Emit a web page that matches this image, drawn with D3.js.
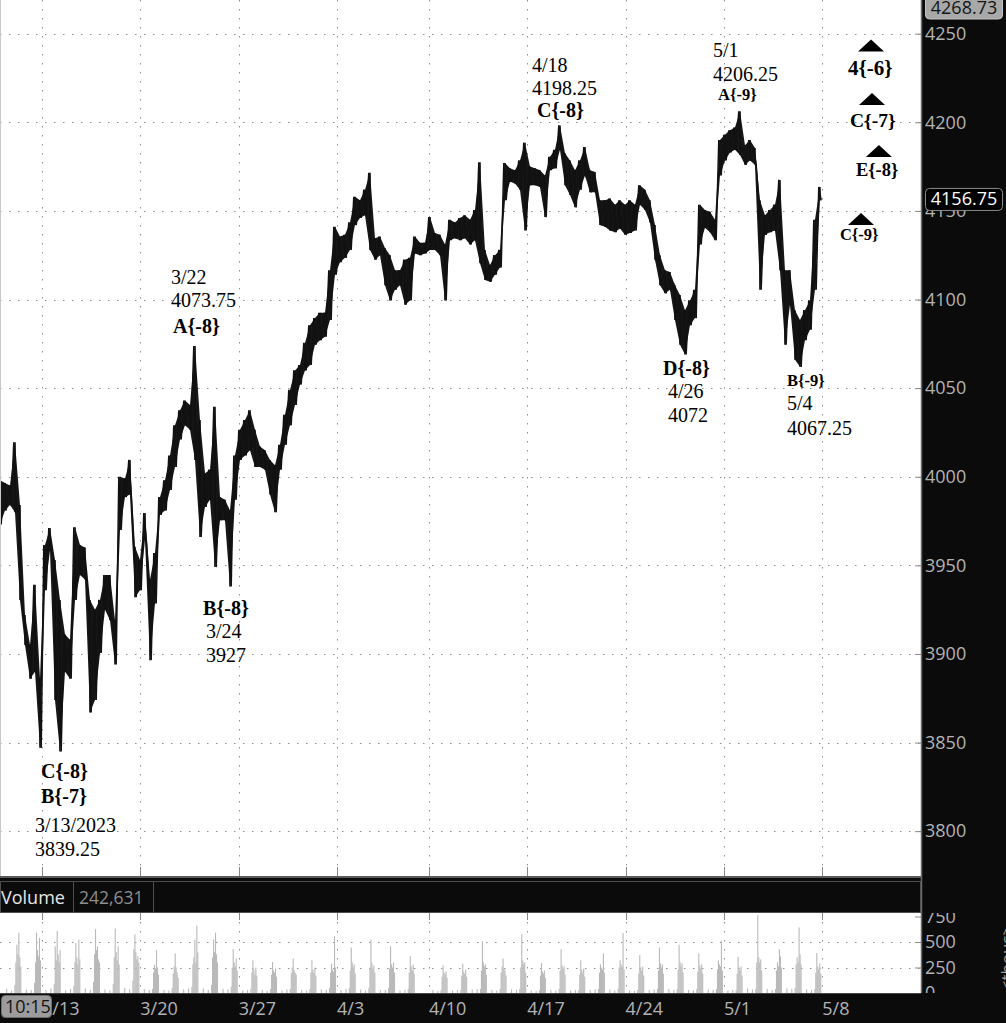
<!DOCTYPE html>
<html>
<head>
<meta charset="utf-8">
<script src="https://cdn.jsdelivr.net/npm/d3@7"></script>
<style>
  html, body { margin: 0; padding: 0; background: #0b0b0b; overflow: hidden; }
  svg { display: block; }
  .axis text { font-family: "Open Sans", sans-serif; font-size: 18px; fill: #b3b3b3; }
  .note { font-family: "Liberation Serif", "Times New Roman", serif; fill: #000; }
</style>
</head>
<body>
<div id="chart"></div>
<script>
'use strict';

// ---- data -------------------------------------------------------------
// time is measured in trading sessions, 0 = the 3/13 session
var weekLabels = ['3/13', '3/20', '3/27', '4/3', '4/10', '4/17', '4/24', '5/1', '5/8'];
var weekSessions = [0, 5, 10, 15, 19.67, 24.67, 29.67, 34.67, 39.67];

var priceTicks = [3800, 3850, 3900, 3950, 4000, 4050, 4100, 4150, 4200, 4250];
var volTicks = [0, 250, 500, 750];

var lastPrice = 4156.75;
var topPrice = 4268.73;
var lastVolume = '242,631';
var cursorTime = '10:15';

// sampled price ranges (high / low), one sample every priceStep sessions
var priceT0 = -2.135;
var priceStep = 0.2542;
var priceHigh = [
  3998, 3996.5, 3995, 4019.5, 3984, 3922, 3905, 3939, 3886, 3961.5,
  3971, 3953, 3930.5, 3911, 3908, 3971.5, 3961.5, 3960, 3930.5, 3925,
  3930.5, 3944.5, 3944.5, 3919, 4000, 3999, 4009.5, 3960.5, 3953, 3979.5,
  3942, 3957, 3988.5, 3998, 4012, 4029, 4037.5, 4043, 4040.5, 4073.75,
  4032, 4002, 4004, 4039.5, 3988.5, 3987, 3981, 4012, 4026.5, 4032,
  4037.5, 4026.5, 4017, 4015, 4009.5, 4006.5, 4018, 4035, 4049, 4060,
  4063, 4075.5, 4085.5, 4089.5, 4092.5, 4092.5, 4116.5, 4141, 4135.5, 4136.5,
  4143.5, 4158, 4156, 4162, 4171.5, 4134.5, 4135.5, 4129, 4125, 4116.5,
  4116.5, 4122.5, 4123.5, 4135.5, 4132, 4132, 4146.5, 4137.5, 4136.5, 4131,
  4145, 4143.5, 4146, 4147.5, 4145, 4150.5, 4177.5, 4128, 4119.5, 4125,
  4128, 4177, 4174, 4173, 4178.5, 4188.5, 4175, 4174, 4173, 4170,
  4180.5, 4184.5, 4198.25, 4182.5, 4178.5, 4173, 4178.5, 4186, 4173, 4172,
  4156, 4156, 4157, 4153.5, 4156, 4153.5, 4156, 4153.5, 4164.5, 4162,
  4156, 4142, 4125, 4116.5, 4115.5, 4108, 4102.5, 4094, 4099.5, 4105.5,
  4153.5, 4150.5, 4149.5, 4145, 4190, 4193, 4195.5, 4197, 4206.25, 4187,
  4190, 4185.5, 4156, 4147.5, 4150.5, 4153.5, 4167.5, 4116.5, 4116.5, 4094,
  4088.5, 4094, 4099.5, 4145, 4163.5
];
var priceLow = [
  3973, 3981, 3984, 3980, 3930.5, 3905, 3886, 3890, 3847, 3936,
  3958.5, 3874, 3845, 3890, 3886, 3930.5, 3944.5, 3942, 3867, 3874,
  3900.5, 3925, 3919, 3894, 3970, 3988.5, 3990, 3932, 3936, 3964.5,
  3896.5, 3928.5, 3978.5, 3981, 3992.5, 4005.5, 4021, 4029, 4026.5, 4009.5,
  3966, 3983, 3987, 3949, 3975.5, 3975.5, 3938, 3987, 4009.5, 4012,
  4015, 4005.5, 4005.5, 4004, 3990, 3980, 4004, 4018, 4029, 4040.5,
  4052, 4060, 4063, 4074.5, 4077, 4079, 4088.5, 4114, 4121, 4123.5,
  4128, 4142, 4146, 4147.5, 4128, 4122.5, 4125, 4108, 4099.5, 4105.5,
  4108, 4097, 4099.5, 4126, 4125, 4126, 4128, 4128, 4125, 4099.5,
  4133.5, 4134.5, 4133.5, 4134.5, 4131, 4133.5, 4120.5, 4111, 4110, 4114,
  4118, 4156, 4166.5, 4165.5, 4162, 4139, 4164.5, 4164.5, 4163.5, 4146.5,
  4173, 4174, 4184.5, 4164.5, 4159, 4152, 4162, 4170, 4160.5, 4160.5,
  4142, 4141, 4139, 4138, 4140, 4136.5, 4137.5, 4139, 4153.5, 4150.5,
  4143.5, 4122.5, 4108, 4103.5, 4105.5, 4088.5, 4074.5, 4069, 4085.5, 4089.5,
  4131, 4140.5, 4138, 4133.5, 4170, 4178.5, 4183, 4184.5, 4181.5, 4176,
  4178.5, 4176, 4105.5, 4136.5, 4138, 4139, 4116.5, 4074.5, 4097, 4066,
  4062, 4077, 4083, 4105.5, 4156
];

// sessions shown in the volume pane (cash-hours volume, thousands)
var sessionDates = [
  '3/9', '3/10', '3/13', '3/14', '3/15', '3/16', '3/17', '3/20', '3/21', '3/22',
  '3/23', '3/24', '3/27', '3/28', '3/29', '3/30', '3/31', '4/3', '4/4', '4/5',
  '4/6', '4/10', '4/11', '4/12', '4/13', '4/14', '4/17', '4/18', '4/19', '4/20',
  '4/21', '4/24', '4/25', '4/26', '4/27', '4/28', '5/1', '5/2', '5/3', '5/4', '5/5'
];
var sessionT = [
  -2, -1, 0, 1, 2, 3, 4, 5, 6, 7,
  8, 9, 10, 11, 12, 13, 14, 15, 16, 17,
  18, 19.67, 20.67, 21.67, 22.67, 23.67, 24.67, 25.67, 26.67, 27.67,
  28.67, 29.67, 30.67, 31.67, 32.67, 33.67, 34.67, 35.67, 36.67, 37.67, 38.67
];
var volDay = [
  [80, 300, 473, 380, 590, 350, 260],
  [100, 300, 592, 420, 360, 541, 320],
  [90, 457, 320, 609, 380, 300, 420],
  [70, 300, 490, 350, 280, 524, 330],
  [110, 380, 626, 420, 457, 330, 300],
  [90, 350, 633, 400, 320, 457, 280],
  [120, 430, 575, 400, 330, 362, 300],
  [40, 200, 277, 240, 423, 250, 180],
  [50, 190, 260, 389, 250, 200, 150],
  [60, 280, 350, 524, 300, 660, 400],
  [80, 350, 524, 400, 592, 380, 300],
  [60, 250, 430, 300, 260, 340, 220],
  [40, 200, 321, 230, 180, 250, 170],
  [40, 180, 304, 220, 200, 240, 160],
  [40, 190, 250, 338, 220, 200, 180],
  [40, 200, 321, 230, 200, 250, 170],
  [50, 200, 287, 230, 210, 558, 250],
  [50, 220, 446, 300, 250, 280, 190],
  [50, 250, 524, 300, 240, 270, 200],
  [50, 240, 457, 280, 250, 300, 200],
  [40, 200, 362, 260, 220, 280, 190],
  [30, 160, 270, 200, 180, 210, 150],
  [30, 170, 287, 210, 190, 230, 160],
  [40, 220, 507, 300, 260, 280, 180],
  [40, 200, 260, 338, 240, 220, 170],
  [40, 250, 575, 320, 280, 300, 200],
  [30, 170, 294, 210, 190, 220, 150],
  [40, 220, 430, 270, 240, 260, 180],
  [30, 180, 321, 230, 200, 240, 160],
  [40, 200, 280, 250, 230, 389, 200],
  [40, 250, 320, 280, 260, 588, 230],
  [30, 190, 372, 250, 220, 260, 170],
  [40, 220, 446, 290, 250, 280, 190],
  [40, 230, 473, 300, 260, 290, 200],
  [40, 210, 389, 270, 240, 280, 190],
  [40, 230, 320, 280, 260, 514, 220],
  [30, 190, 355, 250, 220, 260, 170],
  [40, 300, 765, 350, 300, 330, 220],
  [40, 220, 300, 260, 430, 360, 250],
  [50, 280, 350, 300, 643, 380, 280],
  [40, 200, 392, 260, 230, 290, 190]
];
// overnight volume, two readings per session (thousands)
var volNight = [
  [40, 25], [35, 30], [30, 45], [25, 40], [45, 30], [35, 25], [50, 35], [40, 30], [30, 25], [35, 45],
  [45, 30], [40, 35], [25, 30], [30, 20], [25, 35], [30, 25], [35, 30], [30, 40], [35, 25], [30, 30],
  [25, 30], [30, 20], [25, 30], [35, 40], [30, 25], [35, 30], [25, 20], [30, 25], [25, 30], [30, 35],
  [35, 25], [25, 20], [30, 35], [40, 30], [30, 25], [35, 30], [25, 30], [45, 35], [40, 30], [45, 40],
  [35, 30]
];

// wave labels, anchored at (session, price)
var notes = [
  {t: 6.56, p: 4108.7, text: '3/22', cls: 'n'},
  {t: 6.56, p: 4095.8, text: '4073.75', cls: 'n'},
  {t: 6.66, p: 4081.1, text: 'A{-8}', cls: 'w'},
  {t: 8.19, p: 3922.0, text: 'B{-8}', cls: 'w'},
  {t: 8.34, p: 3909.0, text: '3/24', cls: 'n'},
  {t: 8.34, p: 3895.4, text: '3927', cls: 'n'},
  {t: -0.05, p: 3830.0, text: 'C{-8}', cls: 'w'},
  {t: -0.05, p: 3815.9, text: 'B{-7}', cls: 'w'},
  {t: -0.36, p: 3799.5, text: '3/13/2023', cls: 'n'},
  {t: -0.36, p: 3786.0, text: '3839.25', cls: 'n'},
  {t: 24.91, p: 4228.4, text: '4/18', cls: 'n'},
  {t: 24.91, p: 4215.4, text: '4198.25', cls: 'n'},
  {t: 25.17, p: 4203.0, text: 'C{-8}', cls: 'w'},
  {t: 34.11, p: 4236.8, text: '5/1', cls: 'n'},
  {t: 34.11, p: 4223.3, text: '4206.25', cls: 'n'},
  {t: 34.37, p: 4212.6, text: 'A{-9}', cls: 'ws'},
  {t: 31.57, p: 4057.4, text: 'D{-8}', cls: 'w'},
  {t: 31.83, p: 4044.4, text: '4/26', cls: 'n'},
  {t: 31.83, p: 4030.9, text: '4072', cls: 'n'},
  {t: 37.88, p: 4051.2, text: 'B{-9}', cls: 'ws'},
  {t: 37.88, p: 4037.6, text: '5/4', cls: 'n'},
  {t: 37.88, p: 4023.5, text: '4067.25', cls: 'n'},
  {t: 40.98, p: 4226.7, text: '4{-6}', cls: 'wl'},
  {t: 41.08, p: 4197.3, text: 'C{-7}', cls: 'wm'},
  {t: 41.38, p: 4169.7, text: 'E{-8}', cls: 'we'},
  {t: 40.57, p: 4133.6, text: 'C{-9}', cls: 'ws'}
];
var markers = [
  {t: 42.15, p: 4239.9},
  {t: 42.20, p: 4209.8},
  {t: 42.55, p: 4180.4},
  {t: 41.64, p: 4142.0}
];

// ---- layout -----------------------------------------------------------
var W = 1006, H = 1023;
var plotW = 921;
var priceBottom = 876;
var headTop = 881, headBottom = 913;
var volTop = 913, volBottom = 993;

var noteStyle = {
  n:  {size: 20, weight: 'normal'},
  w:  {size: 20, weight: 'bold'},
  ws: {size: 16.5, weight: 'bold'},
  wl: {size: 21, weight: 'bold'},
  wm: {size: 19.5, weight: 'bold'},
  we: {size: 18.5, weight: 'bold'}
};

var svg = d3.select('#chart').append('svg')
    .attr('width', W)
    .attr('height', H);

var defs = svg.append('defs');
defs.append('clipPath').attr('id', 'clip-price')
  .append('rect').attr('x', 0).attr('y', 0).attr('width', plotW).attr('height', priceBottom);
defs.append('clipPath').attr('id', 'clip-vol')
  .append('rect').attr('x', 0).attr('y', volTop).attr('width', plotW).attr('height', volBottom - volTop);
defs.append('clipPath').attr('id', 'clip-vol-axis')
  .append('rect').attr('x', 900).attr('y', volTop).attr('width', 106).attr('height', volBottom - volTop);

var x = d3.scaleLinear().domain([-2.135, 44.69]).range([0, plotW]);
var y = d3.scaleLinear().domain([3774.7, 4269.0]).range([priceBottom, 0]);
var yv = d3.scaleLinear().domain([0, 750]).range([volBottom, 916.5]);

// background panels
svg.append('rect').attr('width', W).attr('height', H).attr('fill', '#0b0b0b');
svg.append('rect').attr('x', 0).attr('y', 0).attr('width', plotW).attr('height', priceBottom).attr('fill', '#fff');
svg.append('rect').attr('x', 0).attr('y', volTop).attr('width', plotW).attr('height', volBottom - volTop).attr('fill', '#fff');

var gridColor = '#8f8f8f';
var dots = '1.5,7.5';

// ---- price pane -------------------------------------------------------
var price = svg.append('g').attr('clip-path', 'url(#clip-price)');

price.selectAll('line.hgrid')
  .data(priceTicks)
  .enter().append('line')
    .attr('class', 'hgrid')
    .attr('x1', 0).attr('x2', plotW)
    .attr('y1', function(d) { return Math.round(y(d)) + 0.5; })
    .attr('y2', function(d) { return Math.round(y(d)) + 0.5; })
    .attr('stroke', gridColor)
    .attr('stroke-dasharray', dots);

price.selectAll('line.vgrid')
  .data(weekSessions)
  .enter().append('line')
    .attr('class', 'vgrid')
    .attr('x1', function(d) { return Math.round(x(d)) + 0.5; })
    .attr('x2', function(d) { return Math.round(x(d)) + 0.5; })
    .attr('y1', 0).attr('y2', priceBottom)
    .attr('stroke', gridColor)
    .attr('stroke-dasharray', dots);

// solid week ticks at the foot of the price pane
price.selectAll('line.wtick')
  .data(weekSessions)
  .enter().append('line')
    .attr('class', 'wtick')
    .attr('x1', function(d) { return Math.round(x(d)) + 0.5; })
    .attr('x2', function(d) { return Math.round(x(d)) + 0.5; })
    .attr('y1', priceBottom - 9).attr('y2', priceBottom)
    .attr('stroke', '#888');

var bars = priceHigh.map(function(h, i) {
  return {t: priceT0 + i * priceStep, hi: h, lo: priceLow[i]};
});

var band = d3.area()
  .x(function(d) { return x(d.t); })
  .y0(function(d) { return y(d.lo); })
  .y1(function(d) { return y(d.hi); });

price.append('path')
  .datum(bars)
  .attr('d', band)
  .attr('fill', '#161616');

// zig-zag of highs and lows gives the bar texture
var zig = [];
bars.forEach(function(d) {
  zig.push([x(d.t) - 1.2, y(d.hi)]);
  zig.push([x(d.t) + 1.2, y(d.lo)]);
});
price.append('path')
  .attr('d', d3.line()(zig))
  .attr('fill', 'none')
  .attr('stroke', '#111')
  .attr('stroke-width', 1.5)
  .attr('stroke-linejoin', 'miter');

price.selectAll('line.bar')
  .data(bars)
  .enter().append('line')
    .attr('class', 'bar')
    .attr('x1', function(d) { return x(d.t); })
    .attr('x2', function(d) { return x(d.t); })
    .attr('y1', function(d) { return y(d.hi); })
    .attr('y2', function(d) { return y(d.lo); })
    .attr('stroke', '#111')
    .attr('stroke-width', 1.6);

// annotations
price.selectAll('text.note')
  .data(notes)
  .enter().append('text')
    .attr('class', 'note')
    .attr('x', function(d) { return x(d.t); })
    .attr('y', function(d) { return y(d.p); })
    .attr('font-size', function(d) { return noteStyle[d.cls].size + 'px'; })
    .attr('font-weight', function(d) { return noteStyle[d.cls].weight; })
    .text(function(d) { return d.text; });

price.selectAll('path.marker')
  .data(markers)
  .enter().append('path')
    .attr('class', 'marker')
    .attr('transform', function(d) { return 'translate(' + x(d.t) + ',' + y(d.p) + ')'; })
    .attr('d', 'M-13,0L13,0L0,-12Z')
    .attr('fill', '#000');

// left edge
svg.append('line')
  .attr('x1', 0.5).attr('x2', 0.5).attr('y1', 0).attr('y2', priceBottom)
  .attr('stroke', '#c8c8c8');

// ---- price axis -------------------------------------------------------
var yAxis = svg.append('g')
  .attr('class', 'axis')
  .attr('transform', 'translate(' + (plotW - 6) + ',0)')
  .call(d3.axisRight(y).tickValues(priceTicks).tickSize(6).tickPadding(4).tickFormat(d3.format('d')));
yAxis.select('.domain').remove();
yAxis.selectAll('.tick line').attr('stroke', '#8a8a8a');

// ---- separator and volume header ------------------------------------
svg.append('line')
  .attr('x1', 0).attr('x2', plotW).attr('y1', priceBottom + 1).attr('y2', priceBottom + 1)
  .attr('stroke', '#5a5a5a').attr('stroke-width', 2);

svg.append('rect')
  .attr('x', 0.5).attr('y', headTop + 0.5)
  .attr('width', plotW - 1).attr('height', headBottom - headTop - 1)
  .attr('fill', '#0b0b0b').attr('stroke', '#4d4d4d');
[73, 153].forEach(function(sx) {
  svg.append('line')
    .attr('x1', sx + 0.5).attr('x2', sx + 0.5).attr('y1', headTop).attr('y2', headBottom)
    .attr('stroke', '#4d4d4d');
});
svg.append('text')
  .attr('x', 1).attr('y', 904)
  .attr('font-family', '"Open Sans", sans-serif').attr('font-size', '18px')
  .attr('fill', '#e6e6e6')
  .text('Volume');
svg.append('text')
  .attr('x', 79).attr('y', 904)
  .attr('font-family', '"Open Sans", sans-serif').attr('font-size', '17.5px')
  .attr('fill', '#8e8e8e')
  .text(lastVolume);

// ---- volume pane ------------------------------------------------------
var vol = svg.append('g').attr('clip-path', 'url(#clip-vol)');

vol.selectAll('line.vhgrid')
  .data([250, 500])
  .enter().append('line')
    .attr('class', 'vhgrid')
    .attr('x1', 0).attr('x2', plotW)
    .attr('y1', function(d) { return Math.round(yv(d)) + 0.5; })
    .attr('y2', function(d) { return Math.round(yv(d)) + 0.5; })
    .attr('stroke', gridColor)
    .attr('stroke-dasharray', dots);

vol.selectAll('line.vvgrid')
  .data(weekSessions)
  .enter().append('line')
    .attr('class', 'vvgrid')
    .attr('x1', function(d) { return Math.round(x(d)) + 0.5; })
    .attr('x2', function(d) { return Math.round(x(d)) + 0.5; })
    .attr('y1', volTop).attr('y2', volBottom)
    .attr('stroke', gridColor)
    .attr('stroke-dasharray', dots);

vol.selectAll('line.vtick')
  .data(weekSessions)
  .enter().append('line')
    .attr('class', 'vtick')
    .attr('x1', function(d) { return Math.round(x(d)) + 0.5; })
    .attr('x2', function(d) { return Math.round(x(d)) + 0.5; })
    .attr('y1', volTop).attr('y2', volTop + 7)
    .attr('stroke', '#888');

var volBars = [];
sessionT.forEach(function(t0, k) {
  volNight[k].forEach(function(v, j) {
    volBars.push({t: t0 + 0.2 + j * 0.25, v: v});
  });
  volDay[k].forEach(function(v, j) {
    volBars.push({t: t0 + 0.62 + j * 0.05, v: v});
  });
});

vol.selectAll('rect.vbar')
  .data(volBars)
  .enter().append('rect')
    .attr('class', 'vbar')
    .attr('x', function(d) { return x(d.t) - 0.5; })
    .attr('width', 1.1)
    .attr('y', function(d) { return yv(d.v); })
    .attr('height', function(d) { return volBottom - yv(d.v); })
    .attr('fill', '#b9b9b9');

svg.append('line')
  .attr('x1', 0).attr('x2', plotW).attr('y1', volBottom + 0.5).attr('y2', volBottom + 0.5)
  .attr('stroke', '#444');

var vAxis = svg.append('g')
  .attr('class', 'axis')
  .attr('clip-path', 'url(#clip-vol-axis)')
  .append('g')
  .attr('transform', 'translate(' + (plotW - 6) + ',0)')
  .call(d3.axisRight(yv).tickValues(volTicks).tickSize(6).tickPadding(4).tickFormat(d3.format('d')));
vAxis.select('.domain').remove();
vAxis.selectAll('.tick line').attr('stroke', '#8a8a8a');

svg.append('g')
  .attr('clip-path', 'url(#clip-vol-axis)')
  .append('text')
    .attr('transform', 'translate(1013,958) rotate(-90)')
    .attr('text-anchor', 'middle')
    .attr('font-family', '"Open Sans", sans-serif').attr('font-size', '17px')
    .attr('fill', '#9a9a9a')
    .text('<thous>');

// right-hand border
svg.append('line')
  .attr('x1', plotW + 0.5).attr('x2', plotW + 0.5).attr('y1', 0).attr('y2', volBottom)
  .attr('stroke', '#6a6a6a').attr('stroke-width', 1.5);

// ---- price flags ------------------------------------------------------
var flagTop = svg.append('g');
flagTop.append('rect')
  .attr('x', 925.5).attr('y', -4).attr('width', 77).attr('height', 23).attr('rx', 4)
  .attr('fill', '#a8a8a8').attr('stroke', '#c4c4c4');
flagTop.append('text')
  .attr('x', 964).attr('y', 14).attr('text-anchor', 'middle')
  .attr('font-family', '"Open Sans", sans-serif').attr('font-size', '18px')
  .attr('fill', '#151515')
  .text(topPrice.toFixed(2));

var flagLast = svg.append('g')
  .attr('transform', 'translate(0,' + y(lastPrice) + ')');
flagLast.append('rect')
  .attr('x', 925.5).attr('y', -10.5).attr('width', 77).attr('height', 22).attr('rx', 4)
  .attr('fill', '#000').attr('stroke', '#8c8c8c');
flagLast.append('text')
  .attr('x', 964).attr('y', 6.5).attr('text-anchor', 'middle')
  .attr('font-family', '"Open Sans", sans-serif').attr('font-size', '18px')
  .attr('fill', '#fff')
  .text(lastPrice.toFixed(2));

// ---- time axis --------------------------------------------------------
var tAxis = svg.append('g').attr('class', 'axis');
tAxis.selectAll('text')
  .data(weekSessions)
  .enter().append('text')
    .attr('x', function(d) { return x(d); })
    .attr('y', 1015)
    .text(function(d, i) { return weekLabels[i]; });

var cursor = svg.append('g');
cursor.append('rect')
  .attr('x', 1.5).attr('y', 995.5).attr('width', 50).attr('height', 22).attr('rx', 4)
  .attr('fill', '#9c9c9c').attr('stroke', '#6f6f6f');
cursor.append('text')
  .attr('x', 5).attr('y', 1013)
  .attr('font-family', '"Open Sans", sans-serif').attr('font-size', '18px')
  .attr('fill', '#141414')
  .text(cursorTime);
</script>
</body>
</html>
